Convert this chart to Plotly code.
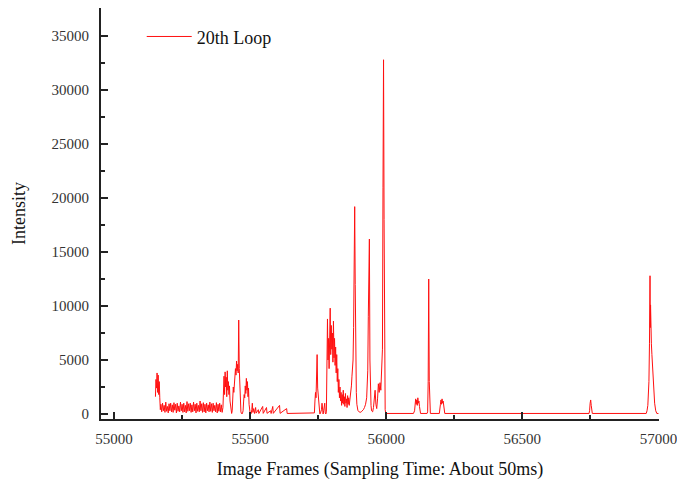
import plotly.graph_objects as go

# ---- data ----
frames_a = list(range(55152, 55171, 2))
intensity_a = [1600, 3200, 2400, 3800, 2000, 3600, 1800, 3000, 1500, 400]

frames_b = list(range(55172, 55401, 3))
intensity_b = [900, 200, 1000, 300, 800, 150, 1100, 250, 700, 100, 950, 300, 1000, 200, 850, 150, 1050, 350, 900, 100,
               1000, 250, 750, 200, 1100, 300, 900, 150, 1000, 200, 800, 100, 1150, 250, 950, 300, 1000, 150, 850, 200,
               1100, 300, 900, 100, 1000, 250, 800, 200, 1200, 300, 950, 150, 1050, 200, 900, 100, 1000, 300, 850, 200,
               1100, 250, 950, 150, 1000, 300, 800, 200, 1050, 100, 900, 250, 1000, 200, 850, 150, 600]

frames_c = list(range(55402, 55503, 2))
intensity_c = [2000, 3500, 1800, 3900, 2500, 3400, 1600, 4000, 2200, 3000, 1800, 2600, 1200, 600, 100,
               50, 300, 1500, 2500, 2000, 3200, 2800, 4200, 3600, 4900, 4000, 4600, 3800, 8700, 4200,
               2000, 800, 200, 50, 0, 100, 300, 1200, 1800, 1500, 2600, 1900, 3300, 2200, 3000, 1600,
               2400, 900, 200, 50, 0]

frames_d = [55504, 55506, 55508, 55510, 55513, 55516, 55520, 55522, 55530, 55532, 55546, 55548, 55560, 55562,
            55575, 55577, 55583, 55585, 55608, 55610, 55634, 55636, 55700, 55734]
intensity_d = [50, 400, 1000, 150, 500, 50, 600, 80, 400, 50, 700, 60, 600, 60,
               300, 50, 700, 60, 800, 60, 500, 50, 50, 50]

frames_e = list(range(55736, 55779, 2))
intensity_e = [100, 1200, 2000, 1500, 3000, 5500, 2400, 1800, 700, 100, 0, 50, 200, 400, 1000, 200, 0, 300,
               600, 1000, 100, 0]

frames_f = list(range(55780, 55899, 2))
intensity_f = [200, 4500, 8800, 5000, 7000, 4200, 7800, 9800, 5500, 8200, 6000, 7500, 4800, 8600, 5200, 7000,
               4500, 6200, 3800, 5500, 3000, 4200, 2000, 3200, 1500, 2500, 1200, 2000, 800, 1800, 1000, 2200,
               900, 1600, 700, 1900, 1000, 1400, 600, 1700, 900, 1500, 800, 1200, 1600, 2000, 2600, 3500,
               4200, 5000, 8000, 14000, 19200, 12000, 5000, 2000, 900, 400, 300, 250]

frames_g = [55900, 55904, 55908, 55912, 55916, 55920, 55924, 55928, 55930, 55932, 55934, 55936, 55938, 55940,
            55942, 55944, 55946, 55950, 55953, 55956, 55959, 55962, 55965, 55968, 55971, 55974, 55977, 55980,
            55983, 55986, 55988, 55990, 55992, 55994, 55996, 55998]
intensity_g = [200, 150, 200, 300, 400, 600, 900, 1500, 2500, 4000, 9000, 12000, 16200, 5000,
               2000, 800, 300, 200, 600, 1500, 2200, 900, 500, 1400, 2800, 2000, 2900, 2200,
               3500, 6000, 21000, 32800, 18000, 3000, 400, 50]

frames_h = [56000, 56100, 56104, 56106, 56108, 56110, 56112, 56114, 56116, 56118, 56120, 56122, 56124, 56126,
            56150, 56152, 56154, 56156, 56158, 56160, 56162, 56195, 56197, 56199, 56201, 56203, 56205, 56207,
            56209, 56211, 56213, 56215, 56745, 56747, 56749, 56751, 56753, 56755, 56757, 56955, 56958, 56961,
            56963, 56965, 56967, 56969, 56970, 56971, 56972, 56974, 56976, 56978, 56980, 56983, 56986, 56990,
            56994, 57000]
intensity_h = [50, 50, 300, 1000, 1400, 900, 1300, 800, 1500, 1000, 1200, 700, 200, 50,
               50, 200, 3000, 12500, 3000, 200, 50, 50, 300, 900, 1300, 900, 1400, 1000,
               1200, 600, 150, 50, 50, 300, 1000, 1300, 800, 200, 50, 50, 300, 800,
               1500, 3000, 6500, 12800, 8000, 10100, 7000, 6500, 5500, 4500, 4000, 2500, 1000, 300,
               50, 50]

frames = frames_a + frames_b + frames_c + frames_d + frames_e + frames_f + frames_g + frames_h
intensity = intensity_a + intensity_b + intensity_c + intensity_d + intensity_e + intensity_f + intensity_g + intensity_h

x_ticks = [55000, 55500, 56000, 56500, 57000]
y_ticks = [0, 5000, 10000, 15000, 20000, 25000, 30000, 35000]

serif = "Liberation Serif, Times New Roman, serif"

fig = go.Figure()
fig.add_trace(go.Scatter(x=frames, y=intensity, mode="lines", name="20th Loop",
                         line=dict(color="#ff1010", width=1)))

fig.update_layout(
    width=677, height=481,
    margin=dict(l=101, r=18, t=8, b=62),
    paper_bgcolor="white", plot_bgcolor="white",
    font=dict(family=serif, color="#222"),
    showlegend=True,
    legend=dict(x=0.073, y=0.93, xanchor="left", yanchor="middle", itemwidth=45,
                bgcolor="rgba(0,0,0,0)", font=dict(family=serif, size=18, color="#111")),
    xaxis=dict(range=[54952, 57002], tickvals=x_ticks, ticktext=[str(v) for v in x_ticks],
               ticks="inside", ticklen=7, tickwidth=1.5, automargin=False, ticklabeloverflow="allow",
               tickcolor="#222", showline=True, linecolor="#222", linewidth=2, showgrid=False,
               zeroline=False, tickfont=dict(family=serif, size=15, color="#333"),
               ticklabelstandoff=5,
               minor=dict(dtick=250, tick0=55000, ticks="inside", ticklen=4, tickcolor="#222", showgrid=False),
               title=dict(text="Image Frames (Sampling Time: About 50ms)", font=dict(family=serif, size=18, color="#111"),
                          standoff=16)),
    yaxis=dict(range=[-463, 37593], tickvals=y_ticks, ticktext=[str(v) for v in y_ticks],
               ticks="inside", ticklen=7, tickwidth=1.5, automargin=False,
               tickcolor="#222", showline=True, linecolor="#222", linewidth=2, showgrid=False,
               zeroline=False, tickfont=dict(family=serif, size=15, color="#333"),
               ticklabelstandoff=7,
               minor=dict(dtick=2500, tick0=0, ticks="inside", ticklen=4, tickcolor="#222", showgrid=False),
               title=dict(text="Intensity", font=dict(family=serif, size=18, color="#111"), standoff=21)),
)

fig.write_html("out.html")
